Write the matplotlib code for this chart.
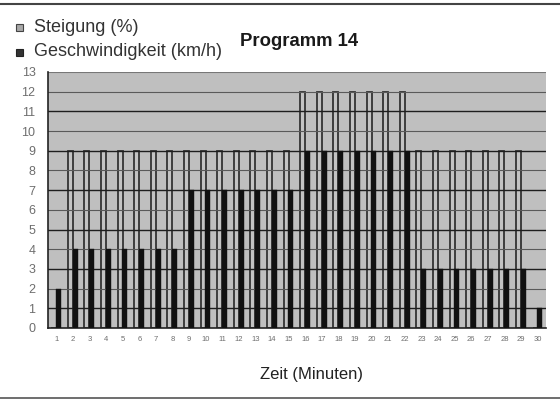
import matplotlib
matplotlib.use("Agg")
import matplotlib.pyplot as plt
from matplotlib.lines import Line2D
from matplotlib.patches import Rectangle
import numpy as np

plt.rcParams['font.family'] = ['Liberation Sans', 'DejaVu Sans']

minutes = list(range(1, 31))
steigung = [0] + [9] * 14 + [12] * 7 + [9] * 7 + [0]
geschwindigkeit = [2] + [4] * 7 + [7] * 7 + [9] * 7 + [3] * 7 + [1]
y_ticks = list(range(0, 14))
title = "Programm 14"
legend_labels = ["Steigung (%)", "Geschwindigkeit (km/h)"]
x_label = "Zeit (Minuten)"

bg = '#bfbfbf'
fig = plt.figure(figsize=(5.6, 4.01), dpi=100)
fig.patch.set_facecolor('white')
ax = fig.add_axes([48 / 560, 1 - 328 / 401, (546 - 48) / 560, (328 - 72) / 401])
ax.set_facecolor(bg)

x = np.array(minutes)
w = 0.3
ax.bar(x - 0.16, steigung, width=w, color='#c3c3c3', edgecolor='#333333',
       linewidth=1.3, zorder=1)
# gridlines
for v in y_ticks[1:]:
    if v == 13:
        ax.axhline(v, color='#777777', lw=0.8, zorder=2)
    elif v % 2 == 1:
        ax.axhline(v, color='#1e1e1e', lw=1.0, zorder=2)
    else:
        ax.axhline(v, color='#5a5a5a', lw=0.8, zorder=2)
ax.bar(x + 0.13, geschwindigkeit, width=w, color='#111111', edgecolor='#111111',
       linewidth=0.3, zorder=3)

ax.set_xlim(0.5, 30.5)
ax.set_ylim(0, 13)
ax.set_yticks(y_ticks)
ax.set_yticklabels([str(v) for v in y_ticks], fontsize=9, color='#6e6e6e')
ax.set_xticks(minutes)
ax.set_xticklabels([str(m) for m in minutes], fontsize=5.5, color='#6e6e6e')
ax.tick_params(axis='both', length=0)
ax.tick_params(axis='y', pad=9)
ax.tick_params(axis='x', pad=6)
for s in ['top', 'right']:
    ax.spines[s].set_visible(False)
ax.spines['left'].set_color('#222222')
ax.spines['left'].set_linewidth(1.2)
ax.spines['bottom'].set_color('#222222')
ax.spines['bottom'].set_linewidth(1.2)

ax.set_xlabel(x_label, fontsize=12, color='#222222')
ax.xaxis.set_label_coords((312 - 48) / (546 - 48), -(375 - 328) / (328 - 72))
ax.xaxis.label.set_va('center')

fig.text(299 / 560, 1 - 42 / 401, title, fontsize=13.3, fontweight='bold',
         ha='center', va='center', color='#1a1a1a')

# legend
fig.patches.append(Rectangle((16 / 560, 1 - 31 / 401), 7 / 560, 7 / 401,
                             transform=fig.transFigure, facecolor='#a8a8a8',
                             edgecolor='#444444', lw=0.8))
fig.patches.append(Rectangle((16 / 560, 1 - 56 / 401), 7 / 560, 7 / 401,
                             transform=fig.transFigure, facecolor='#333333',
                             edgecolor='#222222', lw=0.8))
fig.text(34 / 560, 1 - 27 / 401, legend_labels[0], fontsize=13,
         ha='left', va='center', color='#333333')
fig.text(34 / 560, 1 - 52 / 401, legend_labels[1], fontsize=13,
         ha='left', va='center', color='#333333')

# page border lines from the scan
fig.add_artist(Line2D([0, 1], [1 - 4 / 401, 1 - 4 / 401], transform=fig.transFigure,
                      color='#444444', lw=1.5))
fig.add_artist(Line2D([0, 1], [1 - 398 / 401, 1 - 398 / 401], transform=fig.transFigure,
                      color='#555555', lw=1.2))

fig.savefig('out.png', dpi=100, facecolor='white')
